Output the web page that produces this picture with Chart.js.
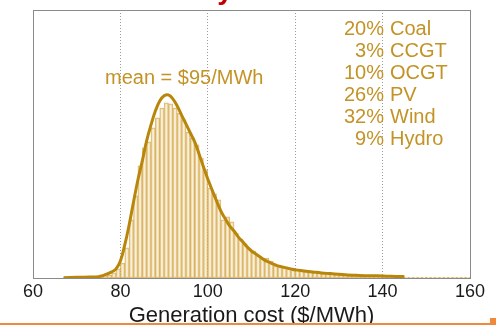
<!DOCTYPE html>
<html>
<head>
<meta charset="utf-8">
<script src="https://cdn.jsdelivr.net/npm/chart.js@4.4.1/dist/chart.umd.min.js"></script>
<style>
  html, body { margin: 0; padding: 0; background: #fff; }
  #wrap { width: 496px; height: 325px; }
</style>
</head>
<body>
<div id="wrap"><canvas id="costChart"></canvas></div>
<script>
// histogram bins (lower edge, $/MWh) and share of years in each bin (%)
var binStart = [67, 68, 69, 70, 71, 72, 73, 74, 75, 76, 77, 78, 79,
  80, 81, 82, 83, 84, 85, 86, 87, 88, 89,
  90, 91, 92, 93, 94, 95, 96, 97, 98, 99,
  100, 101, 102, 103, 104, 105, 106, 107, 108, 109,
  110, 111, 112, 113, 114, 115, 116, 117, 118, 119,
  120, 121, 122, 123, 124, 125, 126, 127, 128, 129,
  130, 131, 132, 133, 134, 135, 136, 137, 138, 139,
  140, 141, 142, 143, 144, 145, 146, 147, 148, 149,
  150, 151, 152, 153, 154, 155, 156, 157, 158, 159];
var binShare = [0.02, 0.02, 0.02, 0.02, 0.02, 0.02, 0.03, 0.04, 0.04, 0.06, 0.09, 0.15, 0.27,
  0.44, 0.89, 1.72, 2.43, 3.32, 3.85, 4.03, 4.44, 4.74, 5.03,
  5.18, 5.15, 5.03, 4.88, 4.68, 4.32, 4.14, 3.94, 3.55, 3.20,
  2.66, 2.49, 2.31, 1.72, 1.81, 1.66, 1.33, 1.15, 1.01, 0.86,
  0.80, 0.65, 0.59, 0.59, 0.50, 0.36, 0.33, 0.30, 0.27, 0.24,
  0.24, 0.21, 0.21, 0.18, 0.18, 0.15, 0.15, 0.12, 0.12, 0.12,
  0.09, 0.09, 0.09, 0.09, 0.07, 0.07, 0.06, 0.06, 0.06, 0.06,
  0.06, 0.04, 0.04, 0.04, 0.03, 0.02, 0.02, 0.02, 0.02, 0.02,
  0.02, 0.02, 0.02, 0.02, 0.02, 0.02, 0.02, 0.02, 0.02, 0.02];

// fitted density curve
var fitCost = [67, 70, 73, 75, 76, 77, 78, 79, 80, 81, 82, 83, 84, 85, 86, 87, 88, 89,
  90, 91, 92, 93, 94, 95, 96, 97, 98, 99, 100, 101, 102, 103, 104, 105, 106, 107, 108, 109,
  110, 111, 112, 113, 114, 115, 116, 117, 118, 119, 120, 122, 124, 126, 128, 130,
  132, 134, 136, 138, 140, 142, 144, 145];
var fitShare = [0.01, 0.02, 0.03, 0.04, 0.07, 0.12, 0.18, 0.27, 0.50, 0.98, 1.57, 2.25, 2.90, 3.46, 4.06, 4.53, 4.94, 5.24,
  5.39, 5.42, 5.30, 5.09, 4.82, 4.56, 4.29, 4.03, 3.67, 3.29, 2.93, 2.60, 2.28, 1.98, 1.75, 1.54, 1.39, 1.21, 1.07, 0.92,
  0.80, 0.71, 0.62, 0.53, 0.47, 0.41, 0.36, 0.33, 0.30, 0.27, 0.24, 0.21, 0.18, 0.15, 0.13, 0.11,
  0.09, 0.08, 0.07, 0.065, 0.06, 0.05, 0.045, 0.04];

var xTicks = [60, 80, 100, 120, 140, 160];
var mixShares = ['20%', '3%', '10%', '26%', '32%', '9%'];
var mixNames = ['Coal', 'CCGT', 'OCGT', 'PV', 'Wind', 'Hydro'];
var meanLabel = 'mean = $95/MWh';

var gold = '#B8860B';
var textGold = '#C39326';

function buildBars() {
  var pts = [];
  for (var i = 0; i < binStart.length; i++) {
    pts.push({ x: binStart[i] + 0.5, y: binShare[i] });
  }
  return pts;
}

function buildFit() {
  var pts = [];
  for (var i = 0; i < fitCost.length; i++) {
    pts.push({ x: fitCost[i], y: fitShare[i] });
  }
  return pts;
}

// box round the plot, the mix list, the mean label and slide trim
var decorations = {
  id: 'decorations',
  afterDraw: function(chart) {
    var ctx = chart.ctx;
    var a = chart.chartArea;
    ctx.save();
    ctx.strokeStyle = '#8a8a8a';
    ctx.lineWidth = 1;
    ctx.strokeRect(a.left + 0.5, a.top + 0.5, a.right - a.left, a.bottom - a.top);

    ctx.fillStyle = textGold;
    ctx.font = '20px "Liberation Sans", Arial, sans-serif';
    ctx.textBaseline = 'middle';
    for (var i = 0; i < mixShares.length; i++) {
      var y = 29 + i * 22;
      ctx.textAlign = 'right';
      ctx.fillText(mixShares[i], 384, y);
      ctx.textAlign = 'left';
      ctx.fillText(mixNames[i], 390, y);
    }
    ctx.textAlign = 'left';
    ctx.fillText(meanLabel, 105, 78);

    // tail of the slide heading above the plot
    ctx.fillStyle = '#C00000';
    ctx.font = 'bold 28px "Liberation Sans", Arial, sans-serif';
    ctx.textBaseline = 'alphabetic';
    ctx.textAlign = 'center';
    ctx.fillText('y', 225, -1);

    // orange rule along the bottom of the slide
    ctx.fillStyle = '#F08A3A';
    ctx.fillRect(0, 323, 490, 2);
    ctx.fillRect(490, 318, 6, 7);
    ctx.restore();
  }
};

function init() {
  var ctx = document.getElementById('costChart').getContext('2d');
  var costChart = new Chart(ctx, {
    type: 'bar',
    data: {
      datasets: [{
        type: 'line',
        label: 'fit',
        data: buildFit(),
        borderColor: gold,
        borderWidth: 3,
        pointRadius: 0,
        tension: 0.4,
        fill: false,
        order: 0
      }, {
        type: 'bar',
        label: 'histogram',
        data: buildBars(),
        backgroundColor: 'rgba(244, 228, 190, 0.55)',
        borderColor: 'rgba(212, 166, 72, 0.78)',
        borderWidth: 1,
        borderSkipped: false,
        barPercentage: 1.0,
        categoryPercentage: 1.0,
        order: 1
      }]
    },
    options: {
      responsive: true,
      maintainAspectRatio: false,
      animation: false,
      layout: { padding: { left: 33, right: 26, top: 10, bottom: 0 } },
      plugins: {
        legend: { display: false },
        tooltip: { enabled: false }
      },
      scales: {
        x: {
          type: 'linear',
          min: 60,
          max: 160,
          offset: false,
          afterBuildTicks: function(scale) {
            scale.ticks = xTicks.map(function(v) { return { value: v }; });
          },
          afterFit: function(scale) { scale.height = 47; },
          grid: {
            offset: false,
            drawTicks: false,
            color: function(c) {
              var v = c.tick ? c.tick.value : null;
              return (v === 60 || v === 160) ? 'rgba(0,0,0,0)' : '#9a9a9a';
            },
            lineWidth: 1
          },
          border: { display: false, dash: [1, 2] },
          ticks: {
            padding: 3,
            color: '#1a1a1a',
            maxRotation: 0,
            font: { family: '"Liberation Sans", Arial, sans-serif', size: 18 }
          },
          title: {
            display: true,
            text: 'Generation cost ($/MWh)',
            color: '#1a1a1a',
            padding: { top: 0, bottom: 0 },
            font: { family: '"Liberation Sans", Arial, sans-serif', size: 22, lineHeight: 0.8 }
          }
        },
        y: {
          display: false,
          min: 0,
          max: 7.93
        }
      }
    },
    plugins: [decorations]
  });
}

init();
</script>
</body>
</html>
